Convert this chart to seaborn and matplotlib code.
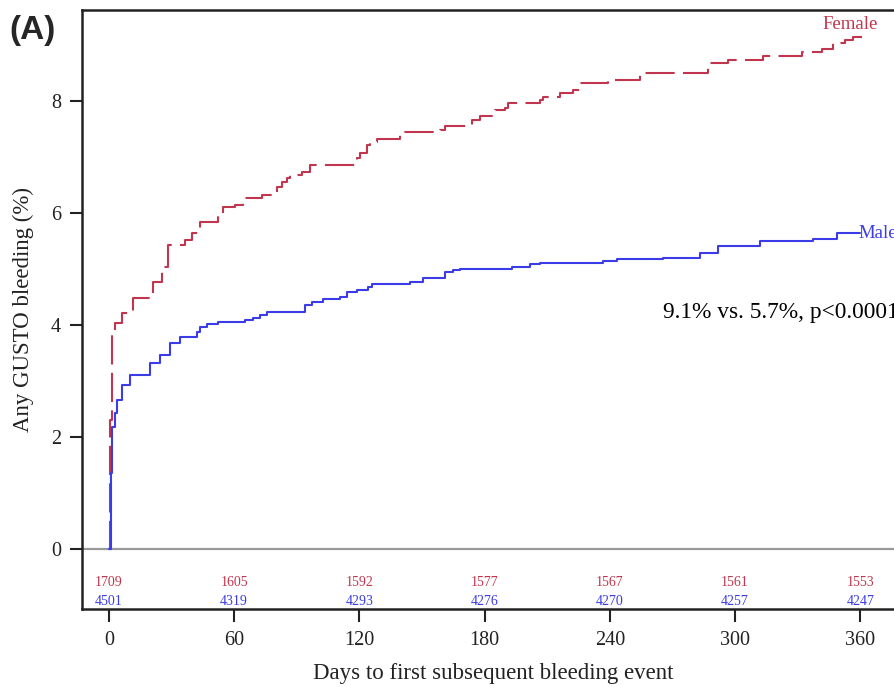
import pandas as pd
import seaborn as sns
import matplotlib.pyplot as plt

sns.set_theme(style="white")
plt.rcParams["font.family"] = ["Liberation Serif", "DejaVu Serif"]

## --- Data (Kaplan-Meier style steps)
female_days = [0.0, 0.5, 1.4, 2.9, 6.2, 11.5, 21.0, 25.4, 28.3, 36.4, 39.8, 43.6,
               52.2, 54.6, 60.4, 64.2, 73.3, 80.5, 82.9, 85.3, 86.7, 92.5, 96.3,
               118.9, 120.3, 123.7, 125.1, 128.5, 139.4, 141.8, 158.6, 160.9,
               173.8, 177.7, 184.9, 189.7, 191.2, 206.5, 208.0, 216.1, 222.3,
               225.7, 239.1, 254.4, 287.0, 296.6, 313.4, 332.1, 341.7, 347.0,
               352.7, 356.5, 360.8]
female_pct = [0.0, 2.3, 3.88, 4.04, 4.21, 4.48, 4.77, 5.04, 5.43, 5.52, 5.64, 5.84,
              5.98, 6.11, 6.14, 6.27, 6.32, 6.46, 6.55, 6.62, 6.68, 6.73, 6.86,
              6.98, 7.07, 7.21, 7.27, 7.32, 7.39, 7.45, 7.48, 7.55,
              7.66, 7.73, 7.84, 7.88, 7.96, 8.02, 8.07, 8.14, 8.2,
              8.32, 8.38, 8.5, 8.68, 8.73, 8.8, 8.88, 8.93, 9.04,
              9.09, 9.14, 9.14]

male_days = [0.0, 1.0, 1.4, 2.9, 3.8, 6.2, 10.1, 19.6, 24.4, 29.2, 34.0, 42.2,
             43.6, 46.9, 52.2, 65.2, 69.0, 72.4, 75.7, 93.9, 97.3, 102.5, 110.7,
             114.0, 118.8, 124.1, 126.0, 144.2, 150.5, 161.0, 164.8, 168.1,
             193.1, 201.7, 206.5, 236.7, 243.4, 265.5, 283.2, 291.8, 312.0,
             337.3, 348.8, 359.8]
male_pct = [0.0, 1.36, 2.18, 2.43, 2.66, 2.93, 3.1, 3.32, 3.46, 3.68, 3.79, 3.88,
            3.96, 4.02, 4.05, 4.09, 4.12, 4.18, 4.23, 4.36, 4.41, 4.46, 4.5,
            4.59, 4.63, 4.68, 4.73, 4.77, 4.84, 4.95, 4.98, 5.0,
            5.04, 5.09, 5.11, 5.14, 5.18, 5.2, 5.29, 5.41, 5.5,
            5.54, 5.64, 5.64]

risk_days = [0, 60, 120, 180, 240, 300, 360]
female_at_risk = [1709, 1605, 1592, 1577, 1567, 1561, 1553]
male_at_risk = [4501, 4319, 4293, 4276, 4270, 4257, 4247]
## ---

RED = "#C1354E"
BLUE = "#3B3BE8"

female = pd.DataFrame({"day": female_days, "pct": female_pct})
male = pd.DataFrame({"day": male_days, "pct": male_pct})

fig = plt.figure(figsize=(8.94, 6.87), dpi=100)
ax = fig.add_axes([82 / 894, 78 / 687, (905 - 82) / 894, (677 - 78) / 687])

ax.axhline(0, color="#9a9a9a", lw=1.6, zorder=1)

sns.lineplot(data=male, x="day", y="pct", ax=ax, color=BLUE, lw=1.5,
             drawstyle="steps-post", estimator=None, sort=False, zorder=3)
sns.lineplot(data=female, x="day", y="pct", ax=ax, color=RED, lw=1.5,
             drawstyle="steps-post", estimator=None, sort=False, zorder=2,
             linestyle=(0, (14, 4)))

for d, f, m in zip(risk_days, female_at_risk, male_at_risk):
    ax.text(d, -0.59, str(f), color=RED, fontsize=10, ha="center", va="center")
    ax.text(d, -0.93, str(m), color=BLUE, fontsize=10, ha="center", va="center")

ax.text(341.7, 9.36, "Female", color=RED, fontsize=13.5, ha="left", va="center")
# cropped at the right edge, as in the original figure
ax.text(358.9, 5.63, "Male", color=BLUE, fontsize=13.5, ha="left", va="center")
ax.text(265.5, 4.23, "9.1% vs. 5.7%, p<0.0001", color="black", fontsize=16.8,
        ha="left", va="center")

ax.set_xlim(-12.9, 381.4)
ax.set_ylim(-1.07, 9.625)
ax.set_xticks(risk_days)
ax.set_yticks([0, 2, 4, 6, 8])
ax.tick_params(axis="both", direction="out", length=9, width=1.5, color="#222222",
               labelsize=14.5, labelcolor="#222222", left=True, bottom=True)
ax.tick_params(axis="x", pad=7)
ax.tick_params(axis="y", pad=6)

for side in ["left", "bottom", "top"]:
    ax.spines[side].set_color("#222222")
    ax.spines[side].set_linewidth(1.8)
ax.spines["right"].set_visible(False)

ax.set_xlabel("Days to first subsequent bleeding event", fontsize=16.5,
              color="#222222", labelpad=9)
ax.set_ylabel("Any GUSTO bleeding (%)", fontsize=16.5, color="#222222", labelpad=12)

fig.text(9 / 894, 1 - 30 / 687, "(A)", fontsize=24, fontweight="bold",
         family=["Liberation Sans", "DejaVu Sans"], ha="left", va="center")

fig.savefig("out.png", dpi=100)
